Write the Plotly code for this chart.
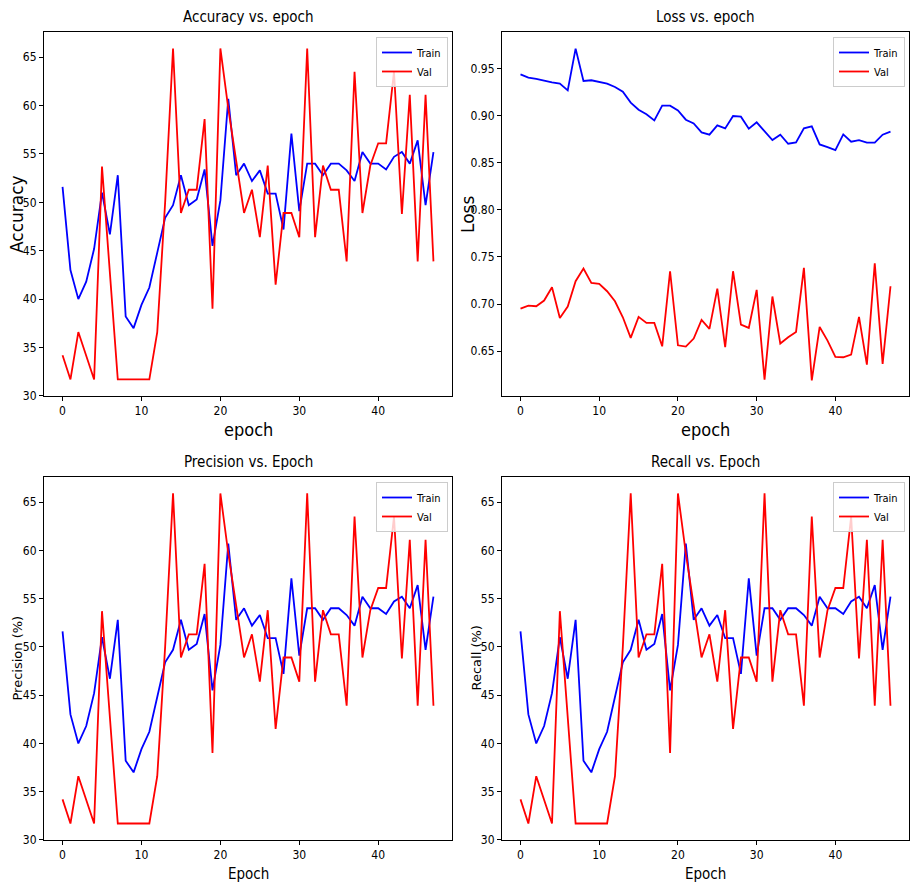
import plotly.graph_objects as go
from plotly.subplots import make_subplots

epochs = list(range(48))

acc_train = [51.6, 43.0, 40.0, 41.8, 45.2, 51.0, 46.7, 52.8, 38.2, 37.0,
             39.4, 41.2, 44.8, 48.4, 49.7, 52.8, 49.7, 50.3, 53.4, 45.5,
             50.2, 60.7, 52.8, 54.0, 52.2, 53.3, 50.9, 50.9, 47.2, 57.1,
             49.1, 54.0, 54.0, 52.8, 54.0, 54.0, 53.3, 52.2, 55.2, 54.0,
             54.0, 53.4, 54.7, 55.2, 54.0, 56.4, 49.7, 55.2]
acc_val = [34.2, 31.7, 36.6, 34.1, 31.7, 53.7, 42.8, 31.7, 31.7, 31.7,
           31.7, 31.7, 36.6, 50.0, 65.9, 48.9, 51.3, 51.3, 58.6, 39.0,
           65.9, 59.7, 54.3, 48.9, 51.3, 46.4, 53.8, 41.5, 48.9, 48.9,
           46.4, 65.9, 46.4, 53.8, 51.3, 51.3, 43.9, 63.5, 48.9, 53.8,
           56.1, 56.1, 63.5, 48.8, 61.1, 43.9, 61.1, 43.9]

loss_train = [0.9436, 0.9401, 0.9387, 0.9366, 0.9351, 0.9337, 0.9266, 0.9709, 0.9366, 0.9373,
              0.9355, 0.9337, 0.9302, 0.9252, 0.9136, 0.9061, 0.9012, 0.8948, 0.9104, 0.9104,
              0.9054, 0.8955, 0.8916, 0.8821, 0.8796, 0.8895, 0.8863, 0.8994, 0.8987, 0.8860,
              0.8927, 0.8835, 0.8739, 0.8796, 0.8700, 0.8714, 0.8863, 0.8884, 0.8693, 0.8665,
              0.8633, 0.8799, 0.8722, 0.8739, 0.8711, 0.8711, 0.8796, 0.8828]
loss_val = [0.6952, 0.6984, 0.6977, 0.7037, 0.7179, 0.6853, 0.6973, 0.7242, 0.7377, 0.7225,
            0.7214, 0.7136, 0.7030, 0.6860, 0.6641, 0.6864, 0.6800, 0.6800, 0.6552, 0.7348,
            0.6563, 0.6549, 0.6634, 0.6832, 0.6736, 0.7164, 0.6542, 0.7348, 0.6782, 0.6747,
            0.7150, 0.6198, 0.7080, 0.6581, 0.6648, 0.6705, 0.7384, 0.6191, 0.6757, 0.6613,
            0.6439, 0.6436, 0.6464, 0.6864, 0.6358, 0.7433, 0.6365, 0.7189]

prec_train = acc_train
prec_val = acc_val
rec_train = acc_train
rec_val = acc_val

titles = ["Accuracy vs. epoch", "Loss vs. epoch", "Precision vs. Epoch", "Recall vs. Epoch"]
xlabels = ["epoch", "epoch", "Epoch", "Epoch"]
ylabels = ["Accuracy", "Loss", "Precision (%)", "Recall (%)"]

W, H = 920, 893
# panel boxes in pixels: (left, right, top, bottom)
boxes = [(44, 452, 32, 396), (502, 909, 32, 396), (44, 452, 477, 840), (502, 909, 477, 840)]

fig = make_subplots(rows=2, cols=2)

panels = [(acc_train, acc_val), (loss_train, loss_val), (prec_train, prec_val), (rec_train, rec_val)]
legends = ["legend", "legend2", "legend3", "legend4"]
pos = [(1, 1), (1, 2), (2, 1), (2, 2)]

for i, ((tr, va), (r, c)) in enumerate(zip(panels, pos)):
    fig.add_trace(go.Scatter(x=epochs, y=tr, mode="lines", name="Train",
                             line=dict(color="#0000ff", width=1.8), legend=legends[i]), row=r, col=c)
    fig.add_trace(go.Scatter(x=epochs, y=va, mode="lines", name="Val",
                             line=dict(color="#ff0000", width=1.8), legend=legends[i]), row=r, col=c)

hfont = "DejaVu Sans Condensed, Liberation Sans Narrow, DejaVu Sans, sans-serif"
vfont = "DejaVu Sans, sans-serif"

layout = dict(width=W, height=H, margin=dict(l=0, r=0, t=0, b=0, autoexpand=False),
              paper_bgcolor="white", plot_bgcolor="white", showlegend=True,
              font=dict(family=hfont, color="black"))

annotations = []
for i, (l, rr, t, b) in enumerate(boxes):
    xa = "xaxis" if i == 0 else f"xaxis{i+1}"
    ya = "yaxis" if i == 0 else f"yaxis{i+1}"
    is_loss = (i == 1)
    layout[xa] = dict(domain=[l / W, rr / W], range=[-2.35, 49.35],
                      tickvals=[0, 10, 20, 30, 40], ticks="outside", ticklen=4,
                      tickcolor="black", showline=True, linecolor="black", linewidth=1,
                      mirror=True, showgrid=False, zeroline=False, automargin=False,
                      tickfont=dict(size=12, family=hfont, color="black"))
    if is_loss:
        yr = [0.6025, 0.9885]
        tv = [0.65, 0.70, 0.75, 0.80, 0.85, 0.90, 0.95]
        tt = [f"{v:.2f}" for v in tv]
    else:
        yr = [29.99, 67.6]
        tv = [30, 35, 40, 45, 50, 55, 60, 65]
        tt = [str(v) for v in tv]
    layout[ya] = dict(domain=[1 - b / H, 1 - t / H], range=yr, tickvals=tv, ticktext=tt,
                      ticks="outside", ticklen=4, tickcolor="black", showline=True,
                      linecolor="black", linewidth=1, mirror=True, showgrid=False,
                      zeroline=False, automargin=False,
                      tickfont=dict(size=12, family=hfont, color="black"))
    cx = (l + rr) / 2 / W
    # title
    annotations.append(dict(text=titles[i], xref="paper", yref="paper", x=cx,
                            y=1 - (t - 4) / H, xanchor="center", yanchor="bottom",
                            showarrow=False, font=dict(size=15, family=hfont, color="black")))
    # x label
    if i < 2:
        annotations.append(dict(text=xlabels[i], xref="paper", yref="paper", x=cx,
                                y=1 - 430 / H, xanchor="center", yanchor="middle",
                                showarrow=False, font=dict(size=18, family=hfont, color="black")))
    else:
        annotations.append(dict(text=xlabels[i], xref="paper", yref="paper", x=cx,
                                y=1 - 874 / H, xanchor="center", yanchor="middle",
                                showarrow=False, font=dict(size=15, family=hfont, color="black")))
    # y label
    ylx = 17 if i in (0, 2) else (468 if i == 1 else 476)
    ysize = 17 if i < 2 else 13
    annotations.append(dict(text=ylabels[i], xref="paper", yref="paper", x=ylx / W,
                            y=1 - (t + b) / 2 / H, xanchor="center", yanchor="middle",
                            textangle=-90, showarrow=False,
                            font=dict(size=ysize, family=vfont, color="black")))
    # legend
    layout[legends[i]] = dict(x=(rr - 4) / W, y=1 - (t + 5) / H, xanchor="right", yanchor="top",
                              xref="paper", yref="paper", bgcolor="rgba(255,255,255,0.8)",
                              bordercolor="#cccccc", borderwidth=1,
                              font=dict(size=11, family=hfont, color="black"),
                              tracegroupgap=0, itemwidth=30)

layout["annotations"] = annotations
fig.update_layout(**layout)

fig.write_html("out.html", config={"displayModeBar": False},
               post_script="document.body.style.margin='0';document.body.style.padding='0';")
